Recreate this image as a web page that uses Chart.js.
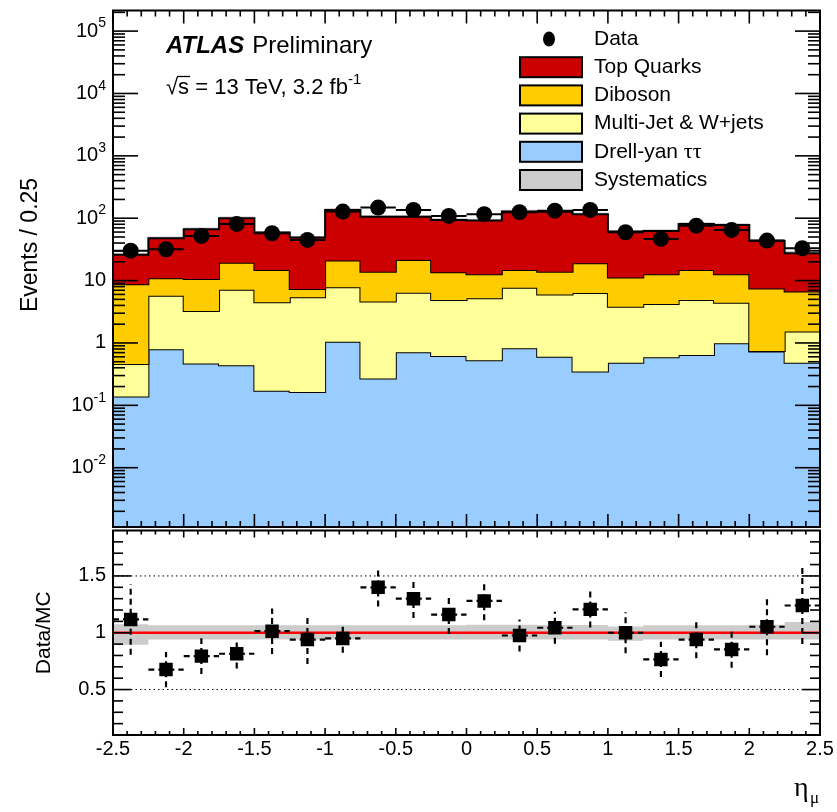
<!DOCTYPE html>
<html>
<head>
<meta charset="utf-8">
<script src="https://cdn.jsdelivr.net/npm/chart.js@4.4.1/dist/chart.umd.min.js"></script>
<style>
  html, body { margin: 0; padding: 0; background: #fff; }
  #wrap { position: relative; width: 837px; height: 812px; }
  canvas { position: absolute; left: 0; top: 0; }
</style>
</head>
<body>
<div id="wrap">
  <canvas id="mainPad" width="837" height="812"></canvas>
  <canvas id="ratioPad" width="837" height="812"></canvas>
</div>
<script>
// muon eta bins (width 0.25)
const etaEdges = [-2.5, -2.25, -2, -1.75, -1.5, -1.25, -1, -0.75, -0.5, -0.25, 0,
                  0.25, 0.5, 0.75, 1, 1.25, 1.5, 1.75, 2, 2.25, 2.5];

// MC backgrounds, events per bin
const drellYan  = [0.138, 0.79, 0.47, 0.44, 0.172, 0.164, 1.05, 0.27, 0.71, 0.62,
                   0.53, 0.82, 0.60, 0.35, 0.48, 0.59, 0.64, 0.99, 0.73, 0.48];
const multiJet  = [0.32, 4.91, 2.79, 6.66, 4.33, 5.24, 6.75, 4.33, 5.69, 4.28,
                   4.67, 6.88, 5.4, 5.95, 3.32, 3.61, 4.26, 3.41, 0.01, 1.04];
const diboson   = [8.25, 5.2, 7.34, 12.3, 10.3, 1.9, 13.1, 9.3, 15.0, 8.7,
                   7.4, 7.1, 7.9, 12.7, 7.4, 8.4, 9.9, 8.2, 6.76, 5.18];
const topQuarks = [17.3, 36.9, 56, 80.6, 44, 41.6, 115, 92, 84.6, 80.4,
                   79, 113, 113, 97, 49.8, 49.9, 66.2, 65.4, 35.8, 20.8];

// observed events
const dataEvents = [30.2, 31.8, 52, 81, 57.4, 44.9, 128, 148, 136, 109,
                    116, 125, 132, 136, 59.6, 46.6, 76, 65, 43.8, 33];

// Data/MC with its uncertainty
const ratioVals = [1.117, 0.676, 0.794, 0.815, 1.014, 0.94, 0.95, 1.40, 1.30, 1.16,
                   1.28, 0.976, 1.044, 1.206, 1.0, 0.765, 0.94, 0.853, 1.053, 1.24];
const ratioErr  = [0.31, 0.155, 0.157, 0.13, 0.2, 0.216, 0.125, 0.17, 0.17, 0.17,
                   0.17, 0.14, 0.14, 0.16, 0.18, 0.155, 0.165, 0.16, 0.25, 0.34];

// relative systematic band
const sysUp   = [0.075, 0.065, 0.065, 0.065, 0.065, 0.065, 0.065, 0.065, 0.065, 0.065,
                 0.07, 0.07, 0.068, 0.068, 0.055, 0.065, 0.065, 0.065, 0.07, 0.095];
const sysDown = [0.105, 0.06, 0.06, 0.06, 0.06, 0.06, 0.06, 0.06, 0.06, 0.06,
                 0.06, 0.06, 0.06, 0.06, 0.07, 0.06, 0.06, 0.06, 0.06, 0.06];

// axis ticks
const yTickValues = [1e5, 1e4, 1e3, 1e2, 10, 1, 0.1, 0.01];
const yTickLabels = ['10^5', '10^4', '10^3', '10^2', '10', '1', '10^-1', '10^-2'];
const xTickValues = [-2.5, -2, -1.5, -1, -0.5, 0, 0.5, 1, 1.5, 2, 2.5];
const xTickLabels = ['-2.5', '-2', '-1.5', '-1', '-0.5', '0', '0.5', '1', '1.5', '2', '2.5'];
const ratioTickValues = [0.5, 1, 1.5];
const ratioTickLabels = ['0.5', '1', '1.5'];
const ratioRefLines = [0.5, 1.5];

const legendLabels = ['Data', 'Top Quarks', 'Diboson', 'Multi-Jet & W+jets', 'Drell-yan ττ', 'Systematics'];
const legendColors = [null, '#cc0000', '#ffcc00', '#ffff99', '#99ccff', '#cccccc'];

const SANS = '"Liberation Sans", Arial, Helvetica, sans-serif';
const SERIF = '"Liberation Serif", "DejaVu Serif", serif';
Chart.defaults.font.family = SANS;

// ---- helpers ----
function histSteps(vals) {
  const pts = [];
  vals.forEach((v, i) => {
    pts.push({x: etaEdges[i], y: v});
    pts.push({x: etaEdges[i + 1], y: v});
  });
  return pts;
}
function hBars(vals) {
  const pts = [];
  vals.forEach((v, i) => {
    pts.push({x: etaEdges[i], y: v}, {x: etaEdges[i + 1], y: v}, {x: etaEdges[i + 1], y: null});
  });
  return pts;
}
function vBars(vals, errs) {
  const pts = [];
  vals.forEach((v, i) => {
    const c = (etaEdges[i] + etaEdges[i + 1]) / 2;
    pts.push({x: c, y: v - errs[i]}, {x: c, y: v + errs[i]}, {x: c, y: null});
  });
  return pts;
}
function centers(vals) {
  return vals.map((v, i) => ({x: (etaEdges[i] + etaEdges[i + 1]) / 2, y: v}));
}
function line(ctx, x1, y1, x2, y2) {
  ctx.beginPath(); ctx.moveTo(x1, y1); ctx.lineTo(x2, y2); ctx.stroke();
}
// "10^5" style label, right aligned at xr
function drawPowLabel(ctx, label, xr, y, size) {
  const parts = label.split('^');
  ctx.textBaseline = 'middle';
  ctx.textAlign = 'left';
  ctx.font = size + 'px ' + SANS;
  const wb = ctx.measureText(parts[0]).width;
  let we = 0;
  if (parts.length > 1) {
    ctx.font = Math.round(size * 0.72) + 'px ' + SANS;
    we = ctx.measureText(parts[1]).width;
    ctx.fillText(parts[1], xr - we, y - size * 0.38);
  }
  ctx.font = size + 'px ' + SANS;
  ctx.fillText(parts[0], xr - we - wb, y);
}

// stacked sums
const cumDY  = drellYan.slice();
const cumMJ  = cumDY.map((v, i) => v + multiJet[i]);
const cumVV  = cumMJ.map((v, i) => v + diboson[i]);
const cumTop = cumVV.map((v, i) => v + topQuarks[i]);

const xMin = etaEdges[0], xMax = etaEdges[etaEdges.length - 1];

// ---- main pad decorations ----
const mainDecor = {
  id: 'mainDecor',
  afterDraw(chart) {
    const ctx = chart.ctx;
    const {left, right, top, bottom} = chart.chartArea;
    const xs = chart.scales.x, ys = chart.scales.y;
    ctx.save();
    ctx.strokeStyle = '#000';
    ctx.fillStyle = '#000';
    ctx.lineWidth = 2;
    ctx.strokeRect(left, top, right - left, bottom - top);

    // log ticks on both sides
    ctx.lineWidth = 1.6;
    for (let d = -4; d <= 6; d++) {
      for (let k = 1; k <= 9; k++) {
        const v = k * Math.pow(10, d);
        if (v < ys.min || v > ys.max) continue;
        const py = ys.getPixelForValue(v);
        const len = k === 1 ? 25 : 12;
        line(ctx, left, py, left + len, py);
        line(ctx, right, py, right - len, py);
      }
    }
    // eta ticks on top and bottom
    for (let i = 1; i < 50; i++) {
      const v = xMin + i * 0.1;
      const px = xs.getPixelForValue(v);
      const len = i % 5 === 0 ? 13 : 6;
      line(ctx, px, top, px, top + len);
      line(ctx, px, bottom, px, bottom - len);
    }

    // y tick labels
    ctx.fillStyle = '#000';
    yTickValues.forEach((v, i) => {
      drawPowLabel(ctx, yTickLabels[i], left - 7, ys.getPixelForValue(v), 20);
    });

    // y title
    ctx.save();
    ctx.translate(31, 245);
    ctx.rotate(-Math.PI / 2);
    ctx.font = '23px ' + SANS;
    ctx.textAlign = 'center';
    ctx.textBaseline = 'middle';
    ctx.fillText('Events / 0.25', 0, 0);
    ctx.restore();

    // ATLAS label
    ctx.textAlign = 'left';
    ctx.textBaseline = 'alphabetic';
    ctx.font = 'italic bold 24px ' + SANS;
    ctx.fillText('ATLAS', 166, 53);
    const wA = ctx.measureText('ATLAS').width;
    ctx.font = '24px ' + SANS;
    ctx.fillText('Preliminary', 166 + wA + 8, 53);

    // sqrt(s) line
    ctx.font = '22px ' + SANS;
    let x = 166;
    const yb = 94;
    ctx.fillText('√', x, yb);
    const wr = ctx.measureText('√').width;
    ctx.fillText('s', x + wr, yb);
    const ws = ctx.measureText('s').width;
    ctx.lineWidth = 1.3;
    line(ctx, x + wr - 1, yb - 17.5, x + wr + ws + 1, yb - 17.5);
    x += wr + ws;
    const rest = ' = 13 TeV, 3.2 fb';
    ctx.fillText(rest, x, yb);
    x += ctx.measureText(rest).width;
    ctx.font = '15px ' + SANS;
    ctx.fillText('-1', x, yb - 10);

    // legend
    legendLabels.forEach((lab, i) => {
      const yc = 39 + i * 28.2;
      if (legendColors[i] === null) {
        ctx.beginPath();
        ctx.ellipse(549, yc, 6, 7.5, 0, 0, Math.PI * 2);
        ctx.fill();
      } else {
        ctx.fillStyle = legendColors[i];
        ctx.fillRect(520, yc - 10, 62, 20);
        ctx.lineWidth = 2;
        ctx.strokeStyle = '#000';
        ctx.strokeRect(520, yc - 10, 62, 20);
        ctx.fillStyle = '#000';
      }
      ctx.textBaseline = 'middle';
      ctx.font = '21px ' + SANS;
      if (lab.endsWith('ττ')) {
        const head = lab.slice(0, -2);
        ctx.fillText(head, 594, yc);
        const wh = ctx.measureText(head).width;
        ctx.font = '22px ' + SERIF;
        ctx.fillText('ττ', 594 + wh, yc);
      } else {
        ctx.fillText(lab, 594, yc);
      }
    });
    ctx.restore();
  }
};

// ---- ratio pad decorations ----
const ratioDecor = {
  id: 'ratioDecor',
  afterDraw(chart) {
    const ctx = chart.ctx;
    const {left, right, top, bottom} = chart.chartArea;
    const xs = chart.scales.x, ys = chart.scales.y;
    ctx.save();
    ctx.strokeStyle = '#000';
    ctx.fillStyle = '#000';
    ctx.lineWidth = 2;
    ctx.strokeRect(left, top, right - left, bottom - top);

    ctx.lineWidth = 1.6;
    for (let i = 1; i <= 18; i++) {
      const v = i * 0.1;
      if (v <= ys.min + 1e-6 || v >= ys.max - 1e-6) continue;
      const py = ys.getPixelForValue(v);
      const len = i % 5 === 0 ? 18 : 10;
      line(ctx, left, py, left + len, py);
      line(ctx, right, py, right - len, py);
    }
    for (let i = 1; i < 50; i++) {
      const v = xMin + i * 0.1;
      const px = xs.getPixelForValue(v);
      const len = i % 5 === 0 ? 7 : 4;
      line(ctx, px, bottom, px, bottom - len);
      line(ctx, px, top, px, top + len);
    }

    ctx.font = '20px ' + SANS;
    ctx.textBaseline = 'middle';
    ctx.textAlign = 'right';
    ratioTickValues.forEach((v, i) => {
      ctx.fillText(ratioTickLabels[i], left - 7, ys.getPixelForValue(v));
    });
    ctx.textAlign = 'center';
    xTickValues.forEach((v, i) => {
      ctx.fillText(xTickLabels[i], xs.getPixelForValue(v), bottom + 14);
    });

    // y title
    ctx.save();
    ctx.translate(44, (top + bottom) / 2);
    ctx.rotate(-Math.PI / 2);
    ctx.font = '21px ' + SANS;
    ctx.textAlign = 'center';
    ctx.textBaseline = 'middle';
    ctx.fillText('Data/MC', 0, 0);
    ctx.restore();

    // x title
    ctx.textAlign = 'left';
    ctx.textBaseline = 'alphabetic';
    ctx.font = '28px ' + SERIF;
    ctx.fillText('η', 794, 796);
    ctx.font = '17px ' + SERIF;
    ctx.fillText('μ', 810, 803);
    ctx.restore();
  }
};

const lineBase = {pointRadius: 0, tension: 0, borderColor: '#000', borderWidth: 2};

new Chart(document.getElementById('mainPad'), {
  type: 'line',
  data: {
    datasets: [
      Object.assign({}, lineBase, {label: 'Drell-yan', data: histSteps(cumDY), fill: 'start', backgroundColor: '#99ccff', order: 6}),
      Object.assign({}, lineBase, {label: 'Multi-Jet & W+jets', data: histSteps(cumMJ), fill: '-1', backgroundColor: '#ffff99', order: 5}),
      Object.assign({}, lineBase, {label: 'Diboson', data: histSteps(cumVV), fill: '-1', backgroundColor: '#ffcc00', order: 4}),
      Object.assign({}, lineBase, {label: 'Top Quarks', data: histSteps(cumTop), fill: '-1', backgroundColor: '#cc0000', order: 3}),
      Object.assign({}, lineBase, {label: 'Systematics', data: histSteps(cumTop.map((v, i) => v * (1 + sysUp[i]))),
        fill: '-1', backgroundColor: '#cccccc', borderWidth: 0, order: 7}),
      Object.assign({}, lineBase, {label: 'Data bars', data: hBars(dataEvents), fill: false, spanGaps: false, order: 1}),
      {label: 'Data', data: centers(dataEvents), showLine: false, pointStyle: 'circle', pointRadius: 8,
        pointBackgroundColor: '#000', pointBorderWidth: 0, order: 0}
    ]
  },
  options: {
    responsive: false,
    animation: false,
    devicePixelRatio: 1,
    layout: {padding: {left: 113, right: 17, top: 10.5, bottom: 285}},
    plugins: {legend: {display: false}, tooltip: {enabled: false}},
    scales: {
      x: {type: 'linear', min: xMin, max: xMax, display: false},
      y: {type: 'logarithmic', min: 1.12e-3, max: 2.14e5, display: false}
    }
  },
  plugins: [mainDecor]
});

new Chart(document.getElementById('ratioPad'), {
  type: 'line',
  data: {
    datasets: [
      Object.assign({}, lineBase, {label: 'sys low', data: histSteps(sysDown.map(d => 1 - d)), fill: false, borderWidth: 0, order: 9}),
      Object.assign({}, lineBase, {label: 'sys high', data: histSteps(sysUp.map(u => 1 + u)), fill: '-1', backgroundColor: '#cccccc', borderWidth: 0, order: 8}),
      Object.assign({}, lineBase, {label: 'ref', data: [
          {x: xMin, y: ratioRefLines[0]}, {x: xMax, y: ratioRefLines[0]}, {x: xMax, y: null},
          {x: xMin, y: ratioRefLines[1]}, {x: xMax, y: ratioRefLines[1]}],
        borderWidth: 1, borderDash: [1.5, 3], spanGaps: false, fill: false, order: 6}),
      Object.assign({}, lineBase, {label: 'unity', data: [{x: xMin, y: 1}, {x: xMax, y: 1}],
        borderColor: '#ff0000', borderWidth: 2.5, fill: false, order: 5}),
      Object.assign({}, lineBase, {label: 'h err', data: hBars(ratioVals), borderDash: [6, 4], borderWidth: 2.2, spanGaps: false, fill: false, order: 2}),
      Object.assign({}, lineBase, {label: 'v err', data: vBars(ratioVals, ratioErr), borderDash: [6, 4], borderWidth: 2.2, spanGaps: false, fill: false, order: 1}),
      {label: 'Data/MC', data: centers(ratioVals), showLine: false, pointStyle: 'rect', pointRadius: 9.5,
        pointBackgroundColor: '#000', pointBorderWidth: 0, order: 0}
    ]
  },
  options: {
    responsive: false,
    animation: false,
    devicePixelRatio: 1,
    layout: {padding: {left: 113, right: 17, top: 530.5, bottom: 77}},
    plugins: {legend: {display: false}, tooltip: {enabled: false}},
    scales: {
      x: {type: 'linear', min: xMin, max: xMax, display: false},
      y: {type: 'linear', min: 0.1, max: 1.9, display: false}
    }
  },
  plugins: [ratioDecor]
});
</script>
</body>
</html>
